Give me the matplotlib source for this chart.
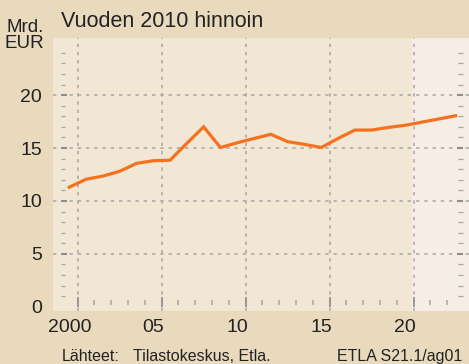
import numpy as np
import matplotlib.pyplot as plt
from matplotlib.transforms import blended_transform_factory

# colours
bg_outer = '#e9d9bd'
bg_plot = '#f2e6d5'
bg_fcst = '#f6ede4'
line_col = '#f4721f'
grid_col = '#a8a6a2'
tick_col = '#8f8d8a'
text_col = '#222222'

plt.rcParams['font.family'] = ['Liberation Sans', 'DejaVu Sans']

# data, billion EUR at 2010 prices
years = list(range(2000, 2024))
values = [11.3, 12.05, 12.35, 12.8, 13.55, 13.8, 13.85, 15.45, 17.0, 15.05,
          15.5, 15.9, 16.3, 15.6, 15.35, 15.05, 15.9, 16.7, 16.7, 16.95,
          17.15, 17.45, 17.75, 18.05]

x_labels = ['2000', '05', '10', '15', '20']
x_label_pos = [2000, 2005, 2010, 2015, 2020]
y_major = [0, 5, 10, 15, 20]
fcst_start = 2020.4

fig = plt.figure(figsize=(4.69, 3.64), dpi=100, facecolor=bg_outer)
ax = fig.add_axes([0.113, 0.1456, 0.887, 0.75])
ax.set_facecolor(bg_plot)
for s in ax.spines.values():
    s.set_visible(False)

xmin, xmax = 1999.03, 2023.8
ymin, ymax = -0.4, 25.4
ax.set_xlim(xmin, xmax)
ax.set_ylim(ymin, ymax)

# lighter forecast area
ax.axvspan(fcst_start, xmax, color=bg_fcst, lw=0, zorder=0)

# dotted grid: year boundaries every 5 years, values every 5
dots = (0, (2.2, 3.2))
for xv in np.arange(2000.5, 2021, 5):
    ax.axvline(xv, color=grid_col, lw=1.1, ls=dots, zorder=1)
for yv in y_major[1:]:
    ax.axhline(yv, color=grid_col, lw=1.1, ls=dots, zorder=1)

# small dashes along left and right sides
tr = blended_transform_factory(ax.transAxes, ax.transData)
for yv in range(1, 25):
    major = yv % 5 == 0
    col = tick_col if major else grid_col
    lw = 1.5 if major else 0.9
    ax.plot([0.019, 0.033 if major else 0.029], [yv, yv], transform=tr,
            color=col, lw=lw, solid_capstyle='butt', zorder=2)
    ax.plot([0.970 if major else 0.974, 0.985], [yv, yv], transform=tr,
            color=col, lw=lw, solid_capstyle='butt', zorder=2)

# year ticks on the bottom
for i, xv in enumerate(np.arange(2000.5, 2023, 1)):
    major = i % 5 == 0
    if major:
        ax.plot([xv, xv], [0.0, 0.97], color=tick_col, lw=1.2,
                solid_capstyle='butt', zorder=2)
    else:
        ax.plot([xv, xv], [0.15, 0.6], color=grid_col, lw=1.1,
                solid_capstyle='butt', zorder=2)

ax.plot(years, values, color=line_col, lw=2.3, solid_joinstyle='miter',
        zorder=3)

ax.set_xticks(x_label_pos)
ax.set_xticklabels(x_labels, fontsize=14, color=text_col)
ax.set_yticks(y_major)
ax.set_yticklabels([str(v) for v in y_major], fontsize=14, color=text_col)
ax.tick_params(length=0)
ax.tick_params(axis='y', pad=8)
ax.tick_params(axis='x', pad=6)

fig.text(0.094, 0.912, 'Mrd.', ha='right', va='baseline', fontsize=13.5,
         color=text_col)
fig.text(0.094, 0.868, 'EUR', ha='right', va='baseline', fontsize=13.5,
         color=text_col)
fig.text(0.130, 0.926, 'Vuoden 2010 hinnoin', ha='left', va='baseline',
         fontsize=15.5, color=text_col)
fig.text(0.131, 0.007, 'Lähteet:', ha='left', va='baseline', fontsize=11.5,
         color=text_col)
fig.text(0.284, 0.007, 'Tilastokeskus, Etla.', ha='left', va='baseline',
         fontsize=11.5, color=text_col)
fig.text(0.985, 0.007, 'ETLA S21.1/ag01', ha='right', va='baseline',
         fontsize=11.5, color=text_col)

fig.savefig('out.png', dpi=100, facecolor=bg_outer)
